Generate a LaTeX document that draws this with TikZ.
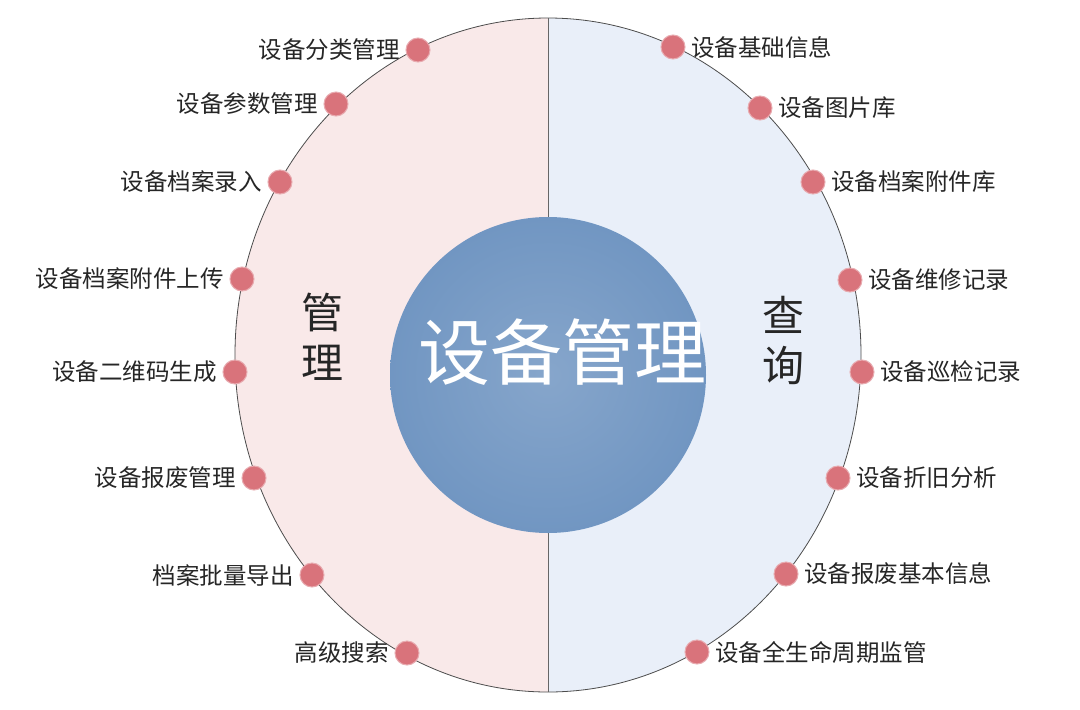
\documentclass[tikz,border=0pt]{standalone}
\usepackage{fontspec}
\setmainfont{Noto Sans CJK SC}
\begin{document}
\begin{tikzpicture}[x=1pt,y=-1pt,
  dot/.style={circle,fill=dotc,draw=dotc!60!white,line width=1pt,minimum size=24pt,inner sep=0pt},
  lbl/.style={font=\fontsize{23.5}{24}\selectfont,text=black!85},
  side/.style={font=\fontsize{42}{50}\selectfont,text=black!85,align=center}]
\definecolor{pinkc}{HTML}{F9E9E9}
\definecolor{bluec}{HTML}{E9EFF9}
\definecolor{dotc}{HTML}{D9737B}
\definecolor{cenc}{HTML}{7196C2}
\useasboundingbox (0,0) rectangle (1080,710);
\fill[white] (0,0) rectangle (1080,710);
\begin{scope}
\clip (0,0) rectangle (548,710);
\fill[pinkc] (548,355) ellipse [x radius=313, y radius=337];
\end{scope}
\begin{scope}
\clip (548,0) rectangle (1080,710);
\fill[bluec] (548,355) ellipse [x radius=313, y radius=337];
\end{scope}
\draw[black!70,line width=0.8pt] (548,355) ellipse [x radius=313, y radius=337];
\draw[black!60,line width=0.8pt] (548,18) -- (548,692);
\shade[inner color=cenc!85!white,outer color=cenc] (548,375) circle (158);
\node[font=\fontsize{72}{72}\selectfont,text=white] (c) at (562,352) {设备管理};
\node[side] (m) at (322,337) {管\\理};
\node[side] (q) at (783,340) {查\\询};
\foreach \x/\y/\t [count=\i] in {418/50/设备分类管理,336/104/设备参数管理,280/182/设备档案录入,242/279/设备档案附件上传,235/372/设备二维码生成,254/478/设备报废管理,312/575/档案批量导出,407/653/高级搜索}{
  \node[dot] (l\i) at (\x,\y) {};
  \node[lbl,anchor=east] (lt\i) at ([xshift=-2pt]l\i.west) {\t};
}
\foreach \x/\y/\t [count=\i] in {673/47/设备基础信息,760/108/设备图片库,813/182/设备档案附件库,850/280/设备维修记录,862/372/设备巡检记录,838/478/设备折旧分析,786/574/设备报废基本信息,697/652/设备全生命周期监管}{
  \node[dot] (r\i) at (\x,\y) {};
  \node[lbl,anchor=west] (rt\i) at ([xshift=2pt]r\i.east) {\t};
}
\end{tikzpicture}
\end{document}
